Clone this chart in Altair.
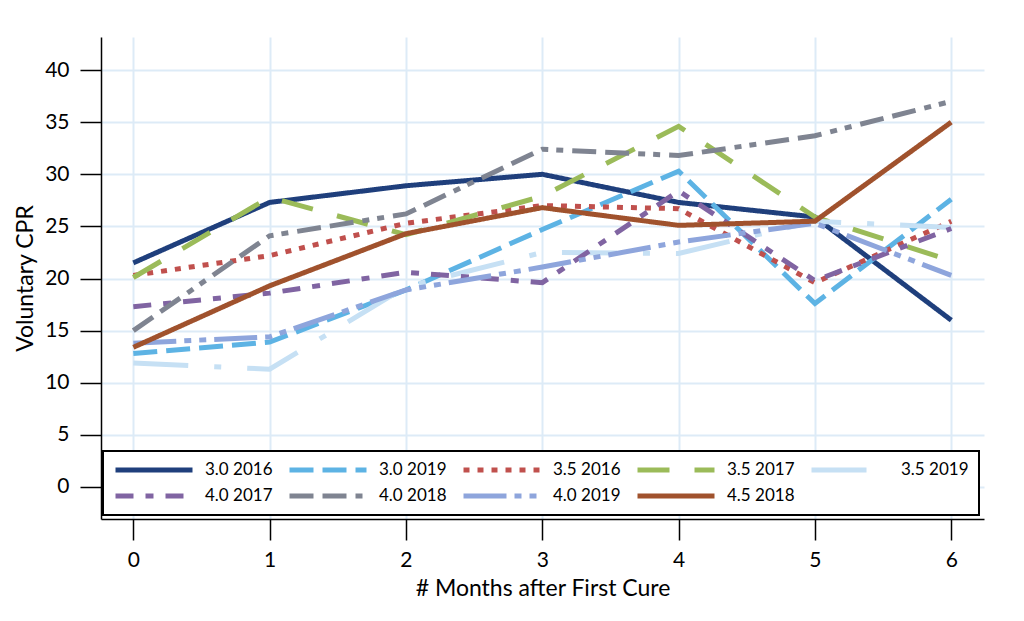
import altair as alt
import pandas as pd

months = [0, 1, 2, 3, 4, 5, 6]
series = ["3.0 2016", "3.0 2019", "3.5 2016", "3.5 2017", "3.5 2019",
          "4.0 2017", "4.0 2018", "4.0 2019", "4.5 2018"]

s30_2016 = [21.5, 27.3, 28.9, 30.0, 27.3, 25.9, 16.0]
s30_2019 = [12.8, 13.9, 18.9, 24.7, 30.3, 17.6, 27.6]
s35_2016 = [20.3, 22.2, 25.3, 27.0, 26.7, 19.6, 25.5]
s35_2017 = [20.1, 27.8, 24.2, 27.9, 34.6, 25.9, 21.7]
s35_2019 = [11.9, 11.3, 19.2, 22.5, 22.4, 25.5, 24.9]
s40_2017 = [17.3, 18.6, 20.6, 19.6, 28.4, 19.8, 24.8]
s40_2018 = [15.0, 24.1, 26.2, 32.4, 31.8, 33.7, 37.0]
s40_2019 = [13.8, 14.4, 18.9, 21.1, 23.5, 25.3, 20.3]
s45_2018 = [13.4, 19.3, 24.3, 26.8, 25.1, 25.5, 35.0]

values = [s30_2016, s30_2019, s35_2016, s35_2017, s35_2019,
          s40_2017, s40_2018, s40_2019, s45_2018]

colors = ["#1F3F7C", "#5DB3E4", "#C0504D", "#9BBB59", "#C6E0F4",
          "#8064A2", "#7F8491", "#8EA5DC", "#A0522D"]
dashes = [[1, 0], [24, 9], [6, 8], [32, 25], [55, 26, 7, 26],
          [18, 12, 8, 12], [24, 9, 24, 9, 7, 8, 7, 9], [43, 8, 7, 8, 7, 8], [1, 0]]

rows = []
for si, (name, vals) in enumerate(zip(series, values)):
    for m, v in zip(months, vals):
        rows.append({"series": name, "month": m, "cpr": v, "order": si})
df = pd.DataFrame(rows)

FONT = "Lato"
GRID = "#DDEBF7"

legend_opts = dict(title=None, orient="none", legendX=2, legendY=414,
                   direction="horizontal", columns=5,
                   symbolType="stroke", symbolSize=5929,
                   symbolStrokeWidth=5, clipHeight=18,
                   columnPadding=14, rowPadding=8,
                   labelFont=FONT, labelFontSize=17,
                   labelColor="black", labelOffset=10,
                   padding=10, strokeColor="black",
                   fillColor="white", labelLimit=200)

chart = alt.Chart(df).mark_line(strokeWidth=5).encode(
    x=alt.X("month:Q",
            scale=alt.Scale(domain=[-0.237, 6.24], nice=False, zero=False),
            axis=alt.Axis(values=months, title="# Months after First Cure",
                          grid=True, gridColor=GRID, gridWidth=2,
                          tickSize=21, tickColor="black", tickWidth=1.5,
                          domainColor="black", domainWidth=1.5,
                          labelFontSize=21, labelFont=FONT, labelColor="black",
                          labelPadding=9, titleFontSize=23, titleFont=FONT,
                          titleFontWeight="normal", titleColor="black",
                          titlePadding=7, labelFlush=False)),
    y=alt.Y("cpr:Q",
            scale=alt.Scale(domain=[-3.07, 43.17], nice=False, zero=False),
            axis=alt.Axis(values=[0, 5, 10, 15, 20, 25, 30, 35, 40],
                          title="Voluntary CPR",
                          grid=True, gridColor=GRID, gridWidth=2,
                          tickSize=21, tickColor="black", tickWidth=1.5,
                          domainColor="black", domainWidth=1.5,
                          labelFontSize=21, labelFont=FONT, labelColor="black",
                          labelPadding=11, titleFontSize=23, titleFont=FONT,
                          titleFontWeight="normal", titleColor="black",
                          titlePadding=7)),
    color=alt.Color("series:N", scale=alt.Scale(domain=series, range=colors),
                    legend=alt.Legend(**legend_opts)),
    strokeDash=alt.StrokeDash("series:N", scale=alt.Scale(domain=series, range=dashes),
                              legend=alt.Legend(**legend_opts)),
    order=alt.Order("month:Q"),
).properties(
    width=883, height=482,
    autosize=alt.AutoSizeParams(type="none"),
    padding={"left": 93, "top": 29, "right": 32, "bottom": 94},
).configure_view(stroke=None).configure_legend(strokeWidth=2)

chart.save("out.html", embed_options={"renderer": "svg", "actions": False})
